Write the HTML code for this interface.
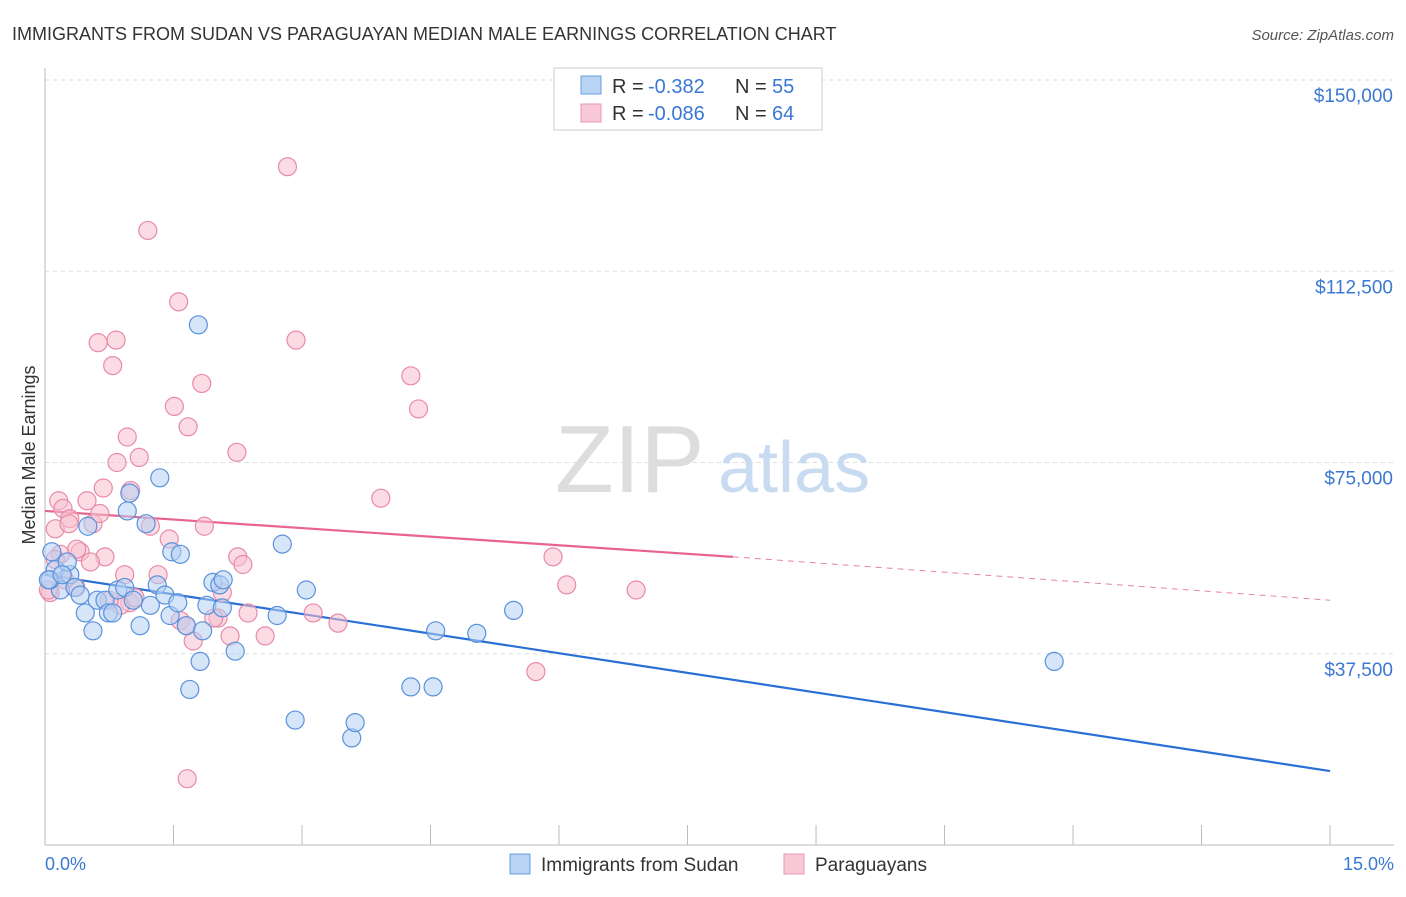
<!DOCTYPE html>
<html><head><meta charset="utf-8"><style>
body{margin:0;background:#fff;font-family:"Liberation Sans",sans-serif;}
svg text{font-family:"Liberation Sans",sans-serif;}
</style></head><body>
<svg width="1406" height="892">
<text x="12" y="40" font-size="18" fill="#333">IMMIGRANTS FROM SUDAN VS PARAGUAYAN MEDIAN MALE EARNINGS CORRELATION CHART</text>
<text x="1394" y="40" font-size="15" fill="#555" text-anchor="end" font-style="italic">Source: ZipAtlas.com</text>
<g id="grid"></g>
<line x1="45" y1="68" x2="45" y2="845" stroke="#bbb"/>
<line x1="45" y1="845" x2="1394" y2="845" stroke="#bbb"/>
<text x="555" y="492" font-size="96" fill="#ddd" font-family="Liberation Serif">ZIP</text>
<text x="718" y="492" font-size="72" fill="#c9dbf1">atlas</text>
<text transform="translate(35,455) rotate(-90)" font-size="18" fill="#333" text-anchor="middle">Median Male Earnings</text>
<text x="45" y="870" font-size="18" fill="#3a78d4">0.0%</text>
<text x="1394" y="870" font-size="18" fill="#3a78d4" text-anchor="end">15.0%</text>
<g id="ylabels"></g>
<g id="lines"></g>
<g id="pts"></g>
<g>
<rect x="554" y="68" width="268" height="62" fill="#fff" stroke="#ccc"/>
<rect x="581" y="76" width="20" height="18" fill="#b9d3f5" stroke="#6a9de0"/>
<rect x="581" y="104" width="20" height="18" fill="#f9c8d6" stroke="#e89ab1"/>
<text x="612" y="93" font-size="20" fill="#333">R =</text>
<text x="648" y="93" font-size="20" fill="#3a78d4">-0.382</text>
<text x="735" y="93" font-size="20" fill="#333">N =</text>
<text x="772" y="93" font-size="20" fill="#3a78d4">55</text>
<text x="612" y="120" font-size="20" fill="#333">R =</text>
<text x="648" y="120" font-size="20" fill="#3a78d4">-0.086</text>
<text x="735" y="120" font-size="20" fill="#333">N =</text>
<text x="772" y="120" font-size="20" fill="#3a78d4">64</text>
</g>
<g>
<rect x="510" y="854" width="20" height="20" fill="#b9d3f5" stroke="#6a9de0"/>
<text x="541" y="871" font-size="19" fill="#333">Immigrants from Sudan</text>
<rect x="784" y="854" width="20" height="20" fill="#f9c8d6" stroke="#e89ab1"/>
<text x="815" y="871" font-size="19" fill="#333">Paraguayans</text>
</g>
</svg>
<script>
const yTicks=[37500,75000,112500,150000];
const yTickLabels=["$37,500","$75,000","$112,500","$150,000"];
const xTicks=[0,1.5,3,4.5,6,7.5,9,10.5,12,13.5,15];
const sudanX=[0.08,0.12,0.18,0.06,0.29,0.35,0.41,0.26,0.5,0.56,0.61,0.7,0.74,0.79,0.85,0.93,0.96,0.99,1.03,1.11,1.18,1.23,1.31,1.34,1.4,1.46,1.48,1.55,1.58,1.65,1.69,1.79,1.81,1.84,1.89,1.96,2.04,2.08,2.07,2.22,2.71,2.77,2.92,3.05,3.58,3.62,4.27,4.53,4.56,5.04,5.47,11.78,0.04,0.2,0.47];
const sudanY=[57500,54000,50000,52000,53000,50500,49000,55500,62500,42000,48000,48000,45500,45500,50000,50500,65500,69000,48000,43000,63000,47000,51000,72000,49000,45000,57500,47500,57000,43000,30500,102000,36000,42000,47000,51500,51000,52000,46500,38000,45000,59000,24500,50000,21000,24000,31000,31000,42000,41500,46000,36000,52000,53000,45500];
const parX=[2.83,1.2,1.56,0.83,0.62,2.93,0.79,1.83,4.27,4.36,1.51,1.67,0.96,1.1,2.24,0.84,1.0,3.92,0.68,0.16,0.49,0.21,0.29,0.12,0.56,1.86,1.23,0.28,0.64,1.45,0.41,0.18,0.7,0.53,2.25,5.93,2.31,1.32,0.93,6.09,6.9,2.07,0.06,0.36,0.99,0.88,0.75,1.05,2.02,2.37,3.13,1.97,3.42,1.58,1.65,1.73,2.16,2.57,5.73,1.66,0.04,0.12,0.23,0.37];
const parY=[133000,120500,106500,99000,98500,99000,94000,90500,92000,85500,86000,82000,80000,76000,77000,75000,69500,68000,70000,67500,67500,66000,64000,62000,63000,62500,62500,63000,65000,60000,57500,57000,56500,55500,56500,56500,55000,53000,53000,51000,50000,49500,49500,50500,47500,47000,48000,48500,44500,45500,45500,44500,43500,44000,43000,40000,41000,41000,34000,13000,50000,56000,52000,58000];
const sudanLine=[[0,53000],[15,14500]];
const parLineSolid=[[0,65500],[8.03,56500]];
const parLineDash=[[8.03,56500],[15,48000]];
const NS="http://www.w3.org/2000/svg";
const X=v=>45+v*85.67, Y=v=>845-v*0.00510;
function mk(t,a,p){const e=document.createElementNS(NS,t);for(const k in a)e.setAttribute(k,a[k]);p.appendChild(e);return e;}
const g=document.getElementById('grid'),yl=document.getElementById('ylabels');
yTicks.forEach((v,i)=>{
const l=mk('line',{x1:45,x2:1394,y1:Y(v),y2:Y(v),stroke:'#ddd','stroke-dasharray':'4,4'},g);


const t=mk('text',{x:1393,y:Y(v)+22,'font-size':19,fill:'#3a78d4','text-anchor':'end'},yl);
t.textContent=yTickLabels[i];


});
xTicks.forEach(v=>{
const l=mk('line',{x1:X(v),x2:X(v),y1:825,y2:845,stroke:'#bbb'},g);


});
const P=document.getElementById('pts');
function dots(xs,ys,f,s,n){xs.forEach((x,i)=>{const c=mk('circle',{cx:X(x),cy:Y(ys[i]),r:9,fill:f,'fill-opacity':0.55,stroke:s,'stroke-width':1.2},P);

});}
dots(parX,parY,'#f7c0d0','#e88aa8','paraguayan-point');
dots(sudanX,sudanY,'#b5cff2','#5a92dc','sudan-point');
const L=document.getElementById('lines');
function ln(p,c,w,d,n){const l=mk('line',{x1:X(p[0][0]),y1:Y(p[0][1]),x2:X(p[1][0]),y2:Y(p[1][1]),stroke:c,'stroke-width':w},L);if(d)l.setAttribute('stroke-dasharray',d);

}
ln(sudanLine,'#2a6fd6',2.2,null,'sudan-trend-line');
ln(parLineSolid,'#e8648f',2.2,null,'paraguayan-trend-line');
ln(parLineDash,'#e8849f',1,'6,5','paraguayan-trend-extension');
</script>
</body></html>
